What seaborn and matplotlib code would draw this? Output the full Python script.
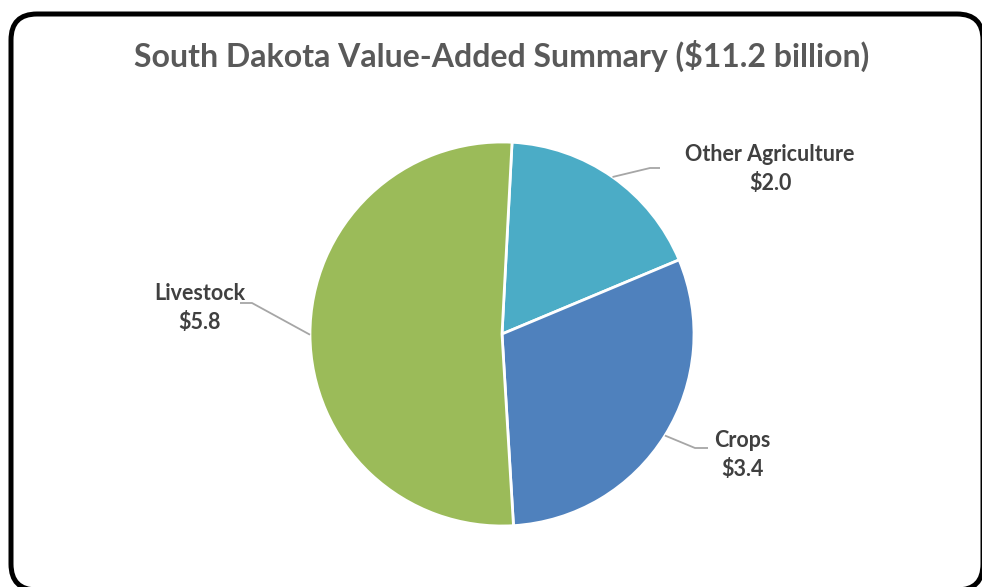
import numpy as np
import matplotlib
matplotlib.use("Agg")
import matplotlib.pyplot as plt
from matplotlib.patches import FancyBboxPatch
import seaborn as sns

# Value added by sector, billions of dollars
categories = ["Other Agriculture", "Crops", "Livestock"]
values = [2.0, 3.4, 5.8]
total_label = 11.2
colors = ["#4BACC6", "#4F81BD", "#9BBB59"]

sns.set_theme(style="white")
plt.rcParams["font.family"] = ["Lato", "DejaVu Sans"]

W, H = 982, 587
fig = plt.figure(figsize=(W / 100, H / 100), dpi=100)
ax = fig.add_axes([0, 0, 1, 1])

# Rounded chart frame
frame = FancyBboxPatch((11, H - 590), 972, 576,
                       boxstyle="round,pad=0,rounding_size=26",
                       linewidth=3.6, edgecolor="black", facecolor="white",
                       transform=ax.transData, zorder=0, clip_on=False)
ax.add_patch(frame)

cx, cy, r = 502, H - 334, 192
start = 87
wedges, _ = ax.pie(values, colors=colors, startangle=start, counterclock=False,
                   center=(cx, cy), radius=r, frame=True,
                   wedgeprops=dict(edgecolor="white", linewidth=2.0))
ax.set_xlim(0, W)
ax.set_ylim(0, H)
ax.set_aspect("equal")
ax.axis("off")

ax.text(502, H - 56, f"South Dakota Value-Added Summary (${total_label} billion)",
        ha="center", va="center", fontsize=23, fontweight="bold", color="#595959")

# Label placement: (elbow, line end, label centre) in pixels from top-left
layout = {
    "Other Agriculture": ((650, 168), (660, 168), (770, 169)),
    "Crops": ((695, 448), (708, 448), (742, 455)),
    "Livestock": ((252, 303), (240, 303), (200, 308)),
}

for w, name, val in zip(wedges, categories, values):
    mid = np.deg2rad((w.theta1 + w.theta2) / 2)
    x0 = cx + r * np.cos(mid)
    y0 = cy + r * np.sin(mid)
    (ex, ey), (lx, ly), (tx, ty) = layout[name]
    ax.plot([x0, ex, lx], [y0, H - ey, H - ly], color="#A6A6A6", lw=1.3,
            solid_capstyle="butt", zorder=3)
    ax.text(tx, H - ty, f"{name}\n${val:.1f}", ha="center", va="center",
            fontsize=15.5, fontweight="bold", color="#404040", linespacing=1.5)

fig.savefig("out.png", dpi=100)
